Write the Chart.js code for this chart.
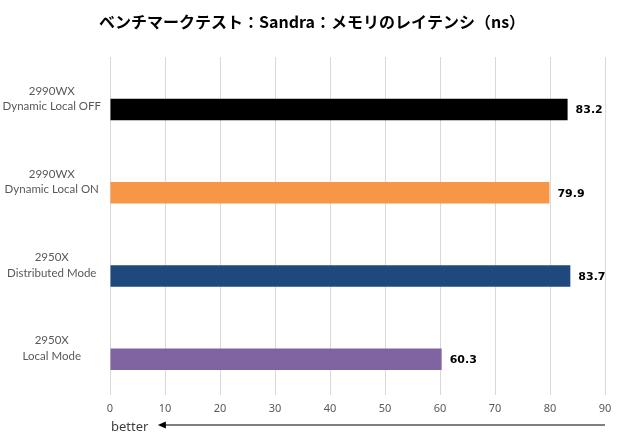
<!DOCTYPE html>
<html>
<head>
<meta charset="utf-8">
<script src="https://cdn.jsdelivr.net/npm/chart.js@4.4.0/dist/chart.umd.min.js"></script>
<style>
  html, body { margin: 0; padding: 0; background: #fff; }
  #wrap { width: 620px; height: 440px; }
</style>
</head>
<body>
<div id="wrap"><canvas id="latencyChart" width="620" height="440"></canvas></div>
<script>
// chart data
const chartTitle = "ベンチマークテスト：Sandra：メモリのレイテンシ（ns）";
const categories = [
  ["2990WX", "Dynamic Local OFF"],
  ["2990WX", "Dynamic Local ON"],
  ["2950X", "Distributed Mode"],
  ["2950X", "Local Mode"]
];
const latency = [83.2, 79.9, 83.7, 60.3];
const spacer = [null, null, null, null]; // empty series, Excel leaves a gap slot above each bar
const barColors = ["#000000", "#F79646", "#1F497D", "#8064A2"];
const xTicks = [0, 10, 20, 30, 40, 50, 60, 70, 80, 90];

// title drawn by hand so it can sit centred on the page
const titlePlugin = {
  id: "pageTitle",
  afterDraw(chart) {
    const ctx = chart.ctx;
    ctx.save();
    ctx.font = "bold 16px 'Noto Sans CJK JP'";
    ctx.fillStyle = "#000";
    ctx.textAlign = "center";
    ctx.textBaseline = "middle";
    ctx.fillText(chartTitle, 312, 22);
    ctx.restore();
  }
};

// value labels at the end of each bar
const valueLabels = {
  id: "valueLabels",
  afterDatasetsDraw(chart) {
    const ctx = chart.ctx;
    const meta = chart.getDatasetMeta(1);
    ctx.save();
    ctx.font = "bold 11px 'DejaVu Sans'";
    ctx.fillStyle = "#000";
    ctx.textAlign = "left";
    ctx.textBaseline = "middle";
    meta.data.forEach((bar, i) => {
      ctx.fillText(latency[i].toFixed(1), bar.x + 8, bar.y + 1);
    });
    ctx.restore();
  }
};

// "better" arrow under the x axis
const betterArrow = {
  id: "betterArrow",
  afterDraw(chart) {
    const ctx = chart.ctx;
    const x = chart.scales.x;
    const y = 425;
    const x0 = x.getPixelForValue(90);
    const x1 = x.getPixelForValue(8.7);
    ctx.save();
    ctx.strokeStyle = "#000";
    ctx.lineWidth = 1.2;
    ctx.beginPath();
    ctx.moveTo(x0, y);
    ctx.lineTo(x1 + 6, y);
    ctx.stroke();
    ctx.fillStyle = "#000";
    ctx.beginPath();
    ctx.moveTo(x1, y);
    ctx.lineTo(x1 + 8, y - 3.5);
    ctx.lineTo(x1 + 8, y + 3.5);
    ctx.closePath();
    ctx.fill();
    ctx.font = "13px 'Noto Sans'";
    ctx.fillStyle = "#404040";
    ctx.textAlign = "left";
    ctx.textBaseline = "middle";
    ctx.fillText("better", x.getPixelForValue(0) + 1, y + 2);
    ctx.restore();
  }
};

const ctx = document.getElementById("latencyChart").getContext("2d");
const latencyChart = new Chart(ctx, {
  type: "bar",
  data: {
    labels: categories,
    datasets: [
      { data: spacer, backgroundColor: "rgba(0,0,0,0)" },
      { data: latency, backgroundColor: barColors, borderWidth: 0 }
    ]
  },
  options: {
    indexAxis: "y",
    responsive: false,
    animation: false,
    layout: { padding: { left: 0, right: 15, top: 57, bottom: 0 } },
    plugins: {
      legend: { display: false },
      tooltip: { enabled: false },
      title: { display: false }
    },
    datasets: {
      bar: { categoryPercentage: 0.52, barPercentage: 1.0 }
    },
    scales: {
      x: {
        min: 0,
        max: 90,
        afterBuildTicks(scale) {
          scale.ticks = xTicks.map(v => ({ value: v }));
        },
        afterFit(scale) {
          scale.height = 50;
        },
        grid: { color: "#d9d9d9", tickLength: 5, drawTicks: true },
        border: { display: false },
        ticks: {
          color: "#595959",
          padding: 7,
          font: { family: "'Noto Sans'", size: 11 }
        }
      },
      y: {
        grid: { display: false },
        border: { display: false },
        afterFit(scale) {
          scale.width = 110;
        },
        ticks: {
          color: "#595959",
          crossAlign: "center",
          padding: 1,
          font: { family: "Lato", size: 11.5, lineHeight: 1.35 }
        }
      }
    }
  },
  plugins: [titlePlugin, valueLabels, betterArrow]
});
</script>
</body>
</html>
